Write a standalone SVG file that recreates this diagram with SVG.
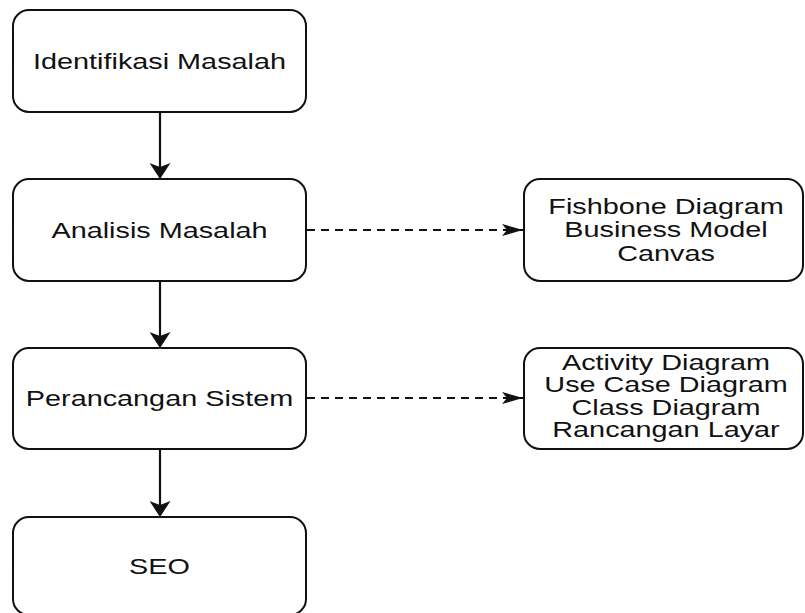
<svg xmlns="http://www.w3.org/2000/svg" width="805" height="613" viewBox="0 0 805 613">
  <style>
    .box { fill: #ffffff; stroke: #111111; stroke-width: 2; }
    .lbl { font-family: "Liberation Sans", Arial, sans-serif; font-size: 22px; fill: #111111; text-anchor: middle; }
    .flow { fill: none; stroke: #111111; stroke-width: 2.2; }
    .ref { fill: none; stroke: #111111; stroke-width: 1.8; stroke-dasharray: 8 6; }
  </style>
  <defs>
    <!-- solid process-flow arrowhead (classic, notched) -->
    <marker id="flowHead" markerUnits="userSpaceOnUse" viewBox="0 0 16 21" markerWidth="16" markerHeight="21" refX="16" refY="10.5" orient="auto">
      <path d="M0 0 L16 10.5 L0 21 L4 10.5 Z" fill="#111111"/>
    </marker>
    <!-- arrowhead for the dashed reference links -->
    <marker id="refHead" markerUnits="userSpaceOnUse" viewBox="0 0 21 12" markerWidth="21" markerHeight="12" refX="21" refY="6" orient="auto">
      <path d="M0 0 L21 6 L0 12 L5 6 Z" fill="#111111"/>
    </marker>
  </defs>
  <rect width="805" height="613" fill="#ffffff"/>

  <g id="connectors">
    <path class="flow" d="M160 112 L160 179" marker-end="url(#flowHead)"/>
    <path class="flow" d="M160 281 L160 348" marker-end="url(#flowHead)"/>
    <path class="flow" d="M160 449 L160 517" marker-end="url(#flowHead)"/>
    <path class="ref" d="M307 230 L523 230" marker-end="url(#refHead)"/>
    <path class="ref" d="M307 398 L523 398" marker-end="url(#refHead)"/>
  </g>

  <g id="identifikasi">
    <rect class="box" x="13" y="10" width="293" height="102" rx="16" ry="16"/>
    <text class="lbl" transform="translate(159.5 68.5) scale(1.31 1)">Identifikasi Masalah</text>
  </g>

  <g id="analisis">
    <rect class="box" x="13" y="179" width="293" height="102" rx="16" ry="16"/>
    <text class="lbl" transform="translate(159.5 237.5) scale(1.31 1)">Analisis Masalah</text>
  </g>

  <g id="perancangan">
    <rect class="box" x="13" y="348" width="293" height="101" rx="16" ry="16"/>
    <text class="lbl" transform="translate(159.5 405.5) scale(1.31 1)">Perancangan Sistem</text>
  </g>

  <g id="seo">
    <rect class="box" x="13" y="517" width="293" height="98" rx="16" ry="16"/>
    <text class="lbl" transform="translate(159.5 573.5) scale(1.31 1)">SEO</text>
  </g>

  <g id="analisis-tools">
    <rect class="box" x="524" y="179" width="279" height="102" rx="16" ry="16"/>
    <text class="lbl" transform="translate(666 213.5) scale(1.31 1)">Fishbone Diagram</text>
    <text class="lbl" transform="translate(666 237) scale(1.31 1)">Business Model</text>
    <text class="lbl" transform="translate(666 260.5) scale(1.31 1)">Canvas</text>
  </g>

  <g id="perancangan-tools">
    <rect class="box" x="524" y="348" width="279" height="101" rx="16" ry="16"/>
    <text class="lbl" transform="translate(666 369.5) scale(1.31 1)">Activity Diagram</text>
    <text class="lbl" transform="translate(666 392) scale(1.31 1)">Use Case Diagram</text>
    <text class="lbl" transform="translate(666 414.5) scale(1.31 1)">Class Diagram</text>
    <text class="lbl" transform="translate(666 437) scale(1.31 1)">Rancangan Layar</text>
  </g>
</svg>
